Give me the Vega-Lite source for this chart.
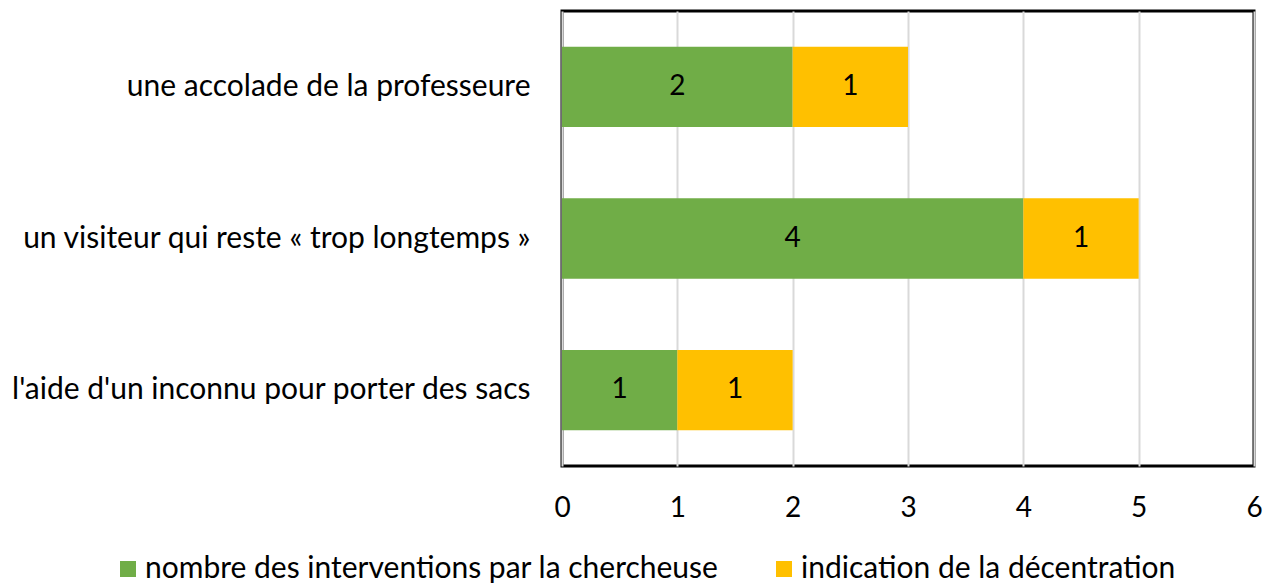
{
  "$schema": "https://vega.github.io/schema/vega-lite/v6.json",
  "width": 692,
  "height": 455,
  "autosize": {"type": "none"},
  "padding": {"left": 562, "top": 11, "right": 27, "bottom": 119},
  "background": "white",
  "config": {
    "font": "Lato",
    "view": {"stroke": "black", "strokeWidth": 3},
    "axis": {"labelFont": "Lato", "labelColor": "black"}
  },
  "data": {
    "values": [
      {"cat": "une accolade de la professeure", "series": "nombre des interventions par la chercheuse", "o": 1, "value": 2},
      {"cat": "une accolade de la professeure", "series": "indication de la décentration", "o": 2, "value": 1},
      {"cat": "un visiteur qui reste « trop longtemps »", "series": "nombre des interventions par la chercheuse", "o": 1, "value": 4},
      {"cat": "un visiteur qui reste « trop longtemps »", "series": "indication de la décentration", "o": 2, "value": 1},
      {"cat": "l'aide d'un inconnu pour porter des sacs", "series": "nombre des interventions par la chercheuse", "o": 1, "value": 1},
      {"cat": "l'aide d'un inconnu pour porter des sacs", "series": "indication de la décentration", "o": 2, "value": 1}
    ]
  },
  "transform": [
    {"stack": "value", "groupby": ["cat"], "sort": [{"field": "o", "order": "ascending"}], "as": ["v0", "v1"]},
    {"calculate": "(datum.v0 + datum.v1) / 2", "as": "mid"}
  ],
  "encoding": {
    "y": {
      "field": "cat",
      "type": "nominal",
      "sort": ["une accolade de la professeure", "un visiteur qui reste « trop longtemps »", "l'aide d'un inconnu pour porter des sacs"],
      "scale": {"paddingInner": 0.47, "paddingOuter": 0.235},
      "axis": {"title": null, "domain": false, "ticks": false, "labelFontSize": 30, "labelPadding": 32, "labelLimit": 600}
    }
  },
  "layer": [
    {
      "mark": {"type": "bar"},
      "encoding": {
        "x": {
          "field": "v0",
          "type": "quantitative",
          "scale": {"domain": [0, 6]},
          "axis": {"title": null, "domain": false, "ticks": false, "tickCount": 6, "labelFontSize": 28, "labelPadding": 28, "gridColor": "#D9D9D9", "gridWidth": 2, "labelFlush": false}
        },
        "x2": {"field": "v1"},
        "color": {
          "field": "series",
          "type": "nominal",
          "sort": ["nombre des interventions par la chercheuse", "indication de la décentration"],
          "scale": {"domain": ["nombre des interventions par la chercheuse", "indication de la décentration"], "range": ["#70AD47", "#FFC000"]},
          "legend": {
            "title": null,
            "orient": "none",
            "direction": "horizontal",
            "legendX": -449,
            "legendY": 543,
            "symbolType": "square",
            "symbolSize": 256,
            "symbolStrokeWidth": 0,
            "labelFontSize": 30,
            "labelColor": "black",
            "labelLimit": 700,
            "labelOffset": 2,
            "columnPadding": 50
          }
        }
      }
    },
    {
      "mark": {"type": "text", "fontSize": 28, "color": "black", "baseline": "middle", "align": "center"},
      "encoding": {
        "x": {"field": "mid", "type": "quantitative"},
        "text": {"field": "value", "type": "quantitative"}
      }
    }
  ]
}
